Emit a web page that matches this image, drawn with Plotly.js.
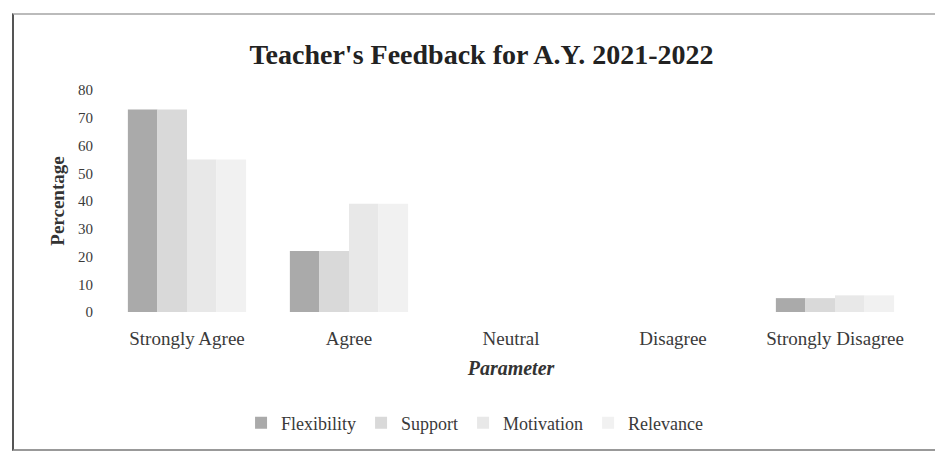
<!DOCTYPE html>
<html>
<head>
<meta charset="utf-8">
<script src="https://cdn.plot.ly/plotly-3.0.1.min.js"></script>
<style>
  html, body { margin: 0; padding: 0; background: #ffffff; }
  #chart { width: 935px; height: 454px; }
  #frame { position: absolute; left: 12px; top: 13px; width: 930px; height: 434px;
           border-left: 2px solid #555; border-top: 2px solid #bbb; border-bottom: 2px solid #999; pointer-events: none; }
</style>
</head>
<body>
<div id="chart"></div>
<div id="frame"></div>
<script>
const categories = ["Strongly Agree", "Agree", "Neutral", "Disagree", "Strongly Disagree"];
const seriesNames = ["Flexibility", "Support", "Motivation", "Relevance"];
const flexibility = [73, 22, 0, 0, 5];
const support = [73, 22, 0, 0, 5];
const motivation = [55, 39, 0, 0, 6];
const relevance = [55, 39, 0, 0, 6];
const yTicks = [0, 10, 20, 30, 40, 50, 60, 70, 80];

const colors = ["#aaaaaa", "#d9d9d9", "#e8e8e8", "#f1f1f1"];
const allValues = [flexibility, support, motivation, relevance];

const traces = allValues.map((vals, i) => ({
  type: "bar",
  name: seriesNames[i],
  x: categories,
  y: vals,
  marker: { color: colors[i] },
  hoverinfo: "x+y+name"
}));

const serif = "Liberation Serif, Times New Roman, serif";

const layout = {
  width: 935,
  height: 454,
  paper_bgcolor: "#ffffff",
  plot_bgcolor: "#ffffff",
  margin: { l: 106, r: 19, t: 90, b: 139 },
  barmode: "group",
  bargap: 0.27,
  bargroupgap: 0,
  title: {
    text: "<b>Teacher's Feedback for A.Y. 2021-2022</b>",
    font: { family: serif, size: 28, color: "#222" },
    x: 0.515, xanchor: "center", y: 0.88, yanchor: "middle"
  },
  xaxis: {
    type: "category",
    automargin: false,
    tickfont: { family: serif, size: 19, color: "#3a3a3a" },
    showgrid: false, showline: false, zeroline: false, ticks: "",
    ticklabelstandoff: 13,
    title: { text: "<b><i>Parameter</i></b>", font: { family: serif, size: 20, color: "#333" }, standoff: 12 }
  },
  yaxis: {
    range: [0, 80],
    automargin: false,
    tickvals: yTicks,
    tickfont: { family: serif, size: 15, color: "#3a3a3a" },
    showgrid: false, showline: false, zeroline: false, ticks: "",
    ticklabelstandoff: 12,
    title: { text: "<b>Percentage</b>", font: { family: serif, size: 19, color: "#333" }, standoff: 8 }
  },
  showlegend: true,
  legend: {
    orientation: "h",
    x: 0.455, xanchor: "center",
    y: -0.50, yanchor: "middle",
    font: { family: serif, size: 18, color: "#3a3a3a" },
    itemwidth: 30,
    itemsizing: "constant",
    traceorder: "normal"
  }
};

Plotly.newPlot("chart", traces, layout, { displayModeBar: false, staticPlot: true });
</script>
</body>
</html>
